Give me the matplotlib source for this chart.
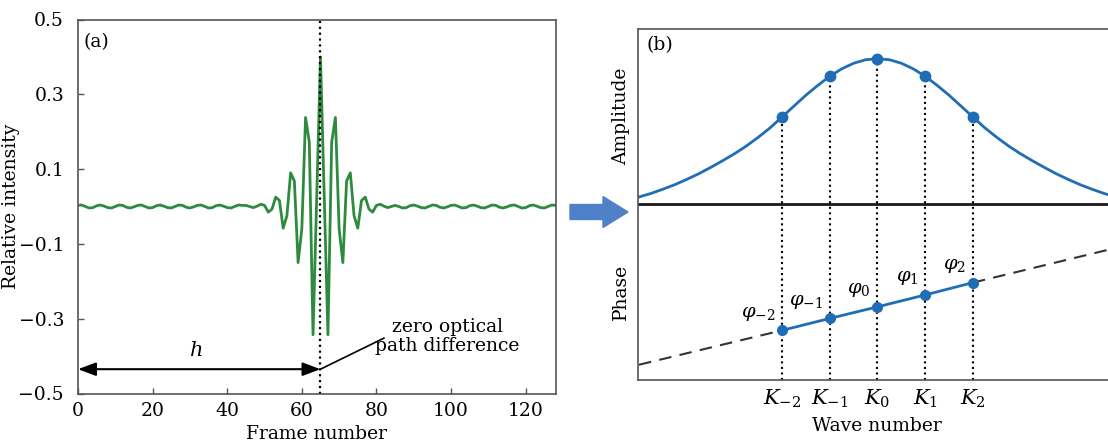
import matplotlib.pyplot as plt
import numpy as np
from matplotlib.patches import FancyArrow

plt.rcParams['font.family'] = 'DejaVu Serif'
plt.rcParams['mathtext.fontset'] = 'dejavuserif'
plt.rcParams['font.size'] = 13.5

# ---- (a) interferogram: relative intensity per frame ----
tail_left = [
    0.003, 0.004, 0.000, -0.004, -0.003, 0.002, 0.004, 0.001, -0.003,
    -0.004, 0.000, 0.004, 0.003, -0.002, -0.004, -0.001, 0.003, 0.004,
    0.000, -0.004, -0.003, 0.002, 0.004, 0.001, -0.003, -0.004, 0.000,
    0.004, 0.003, -0.002, -0.004, -0.001, 0.003, 0.004, 0.000, -0.004,
    -0.003, 0.002, 0.004, 0.001, -0.003, -0.004, 0.000, 0.004, 0.003,
]
burst = [
    0.003, 0.000, -0.003, 0.001, 0.006, 0.003, -0.015, -0.007, 0.025, 0.016,
    -0.058, -0.025, 0.090, 0.068, -0.150, -0.060, 0.238, 0.172, -0.343, 0.030,
    0.400,
    0.030, -0.343, 0.172, 0.238, -0.060, -0.150, 0.068, 0.090, -0.025, -0.058,
    0.016, 0.025, -0.007, -0.015, 0.003, 0.006, 0.001, -0.003, 0.000, 0.003,
]
tail_right = [
    0.000, -0.004, -0.003, 0.002, 0.004, 0.001, -0.003, -0.004, 0.000,
    0.004, 0.003, -0.002, -0.004, -0.001, 0.003, 0.004, 0.000, -0.004,
    -0.003, 0.002, 0.004, 0.001, -0.003, -0.004, 0.000, 0.004, 0.003,
    -0.002, -0.004, -0.001, 0.003, 0.004, 0.000, -0.004, -0.003, 0.002,
    0.004, 0.001, -0.003, -0.004, 0.000, 0.004, 0.003,
]
intensity = np.array(tail_left + burst + tail_right)
frames = np.arange(len(intensity))
zopd_frame = 65
h_arrow_y = -0.435

# ---- (b) spectrum: amplitude and phase at sampled wave numbers ----
k_index = [-2, -1, 0, 1, 2]
k_labels = [r'$K_{-2}$', r'$K_{-1}$', r'$K_{0}$', r'$K_{1}$', r'$K_{2}$']
amp_at_k = [0.748, 0.864, 0.914, 0.864, 0.748]
phase_at_k = [0.140, 0.174, 0.207, 0.241, 0.276]
phase_labels = [r'$\varphi_{-2}$', r'$\varphi_{-1}$', r'$\varphi_{0}$',
                r'$\varphi_{1}$', r'$\varphi_{2}$']
envelope_x = np.linspace(-5.0, 5.0, 41)
envelope_amp = [
    0.520, 0.530, 0.542, 0.555, 0.570, 0.586, 0.604, 0.623, 0.643, 0.665,
    0.690, 0.717, 0.748, 0.779, 0.810, 0.838, 0.864, 0.885, 0.901, 0.911,
    0.914,
    0.911, 0.901, 0.885, 0.864, 0.838, 0.810, 0.779, 0.748, 0.717, 0.690,
    0.665, 0.643, 0.623, 0.604, 0.586, 0.570, 0.555, 0.542, 0.530, 0.520,
]
trend_x = [-5.0, 5.0]
trend_y = [0.042, 0.375]

GREEN = '#2e8a3e'
BLUE = '#1f6db4'
SPINE = '#555555'

W, H = 1108, 443
fig = plt.figure(figsize=(W / 100, H / 100), dpi=100)


def px_axes(left, top, right, bottom):
    return [left / W, 1 - bottom / H, (right - left) / W, (bottom - top) / H]


# panel (a)
ax = fig.add_axes(px_axes(78, 19.5, 555.5, 393.5))
ax.plot(frames, intensity, color=GREEN, lw=2.0)
ax.axvline(zopd_frame, color='k', ls=':', lw=1.6)
ax.set_xlim(0, 128)
ax.set_ylim(-0.5, 0.5)
ax.set_xticks([0, 20, 40, 60, 80, 100, 120])
ax.set_yticks([-0.5, -0.3, -0.1, 0.1, 0.3, 0.5])
ax.set_yticklabels(['\u22120.5', '\u22120.3', '\u22120.1', '0.1', '0.3', '0.5'])
ax.tick_params(direction='in', length=4, width=1, color=SPINE, labelsize=13.5)
ax.tick_params(axis='x', pad=6)
ax.tick_params(axis='y', pad=10)
for s in ax.spines.values():
    s.set_color(SPINE)
    s.set_linewidth(1.2)
ax.set_xlabel('Frame number')
ax.set_ylabel('Relative intensity')
ax.xaxis.set_label_coords(0.5, -0.084)
ax.yaxis.set_label_coords(-0.122, 0.5)
ax.text(0.012, 0.94, '(a)', transform=ax.transAxes, ha='left', va='center')

ax.annotate('', xy=(0, h_arrow_y), xytext=(zopd_frame, h_arrow_y),
            arrowprops=dict(arrowstyle='<|-|>,head_length=0.8,head_width=0.3',
                            color='k', lw=1.5, shrinkA=0, shrinkB=0))
ax.text(zopd_frame / 2 - 1, h_arrow_y + 0.05, r'$h$', ha='center', va='center',
        fontsize=15)
ax.plot([zopd_frame, 82], [h_arrow_y, -0.352], color='k', lw=1.2)
ax.text(99, -0.347, 'zero optical\npath difference', ha='center', va='center',
        multialignment='center', linespacing=1.05)

# panel (b)
bx = fig.add_axes(px_axes(638, 28.5, 1116, 379.5))
bx.set_xlim(-5.02, 5.0)
bx.set_ylim(0, 1)
bx.axhline(0.5, color='#1a1a1a', lw=2.0)
bx.vlines(k_index, 0, amp_at_k, colors='k', linestyles=':', lw=1.5)
bx.plot(envelope_x, envelope_amp, color=BLUE, lw=2.0)
bx.plot(k_index, amp_at_k, 'o', color=BLUE, ms=7.5)

bx.plot([trend_x[0], k_index[0]], [trend_y[0], phase_at_k[0]],
        color='#333333', lw=1.5, dashes=(6, 4))
bx.plot([k_index[-1], trend_x[1]], [phase_at_k[-1], trend_y[1]],
        color='#333333', lw=1.5, dashes=(6, 4))
bx.plot(k_index, phase_at_k, '-o', color=BLUE, lw=2.0, ms=7)
for k, p, lab in zip(k_index, phase_at_k, phase_labels):
    bx.annotate(lab, xy=(k, p), xytext=(-5, 12), textcoords='offset points',
                ha='right', va='center', fontsize=14)

bx.set_xticks(k_index)
bx.set_xticklabels(k_labels, fontsize=15)
bx.set_yticks([])
bx.tick_params(axis='x', length=0, pad=6)
for s in bx.spines.values():
    s.set_color(SPINE)
    s.set_linewidth(1.2)
bx.set_xlabel('Wave number')
bx.xaxis.set_label_coords(0.5, -0.108)
bx.text(0.018, 0.952, '(b)', transform=bx.transAxes, ha='left', va='center')
bx.text(-0.035, 0.75, 'Amplitude', transform=bx.transAxes, rotation=90,
        ha='center', va='center')
bx.text(-0.035, 0.25, 'Phase', transform=bx.transAxes, rotation=90,
        ha='center', va='center')

# block arrow linking the two panels
fig.patches.append(FancyArrow(570 / W, 1 - 212 / H, 58 / W, 0, width=15 / H,
                              head_width=31 / H, head_length=25 / W,
                              length_includes_head=True, color='#4f81c9',
                              transform=fig.transFigure))

fig.savefig('out.png', dpi=100)
